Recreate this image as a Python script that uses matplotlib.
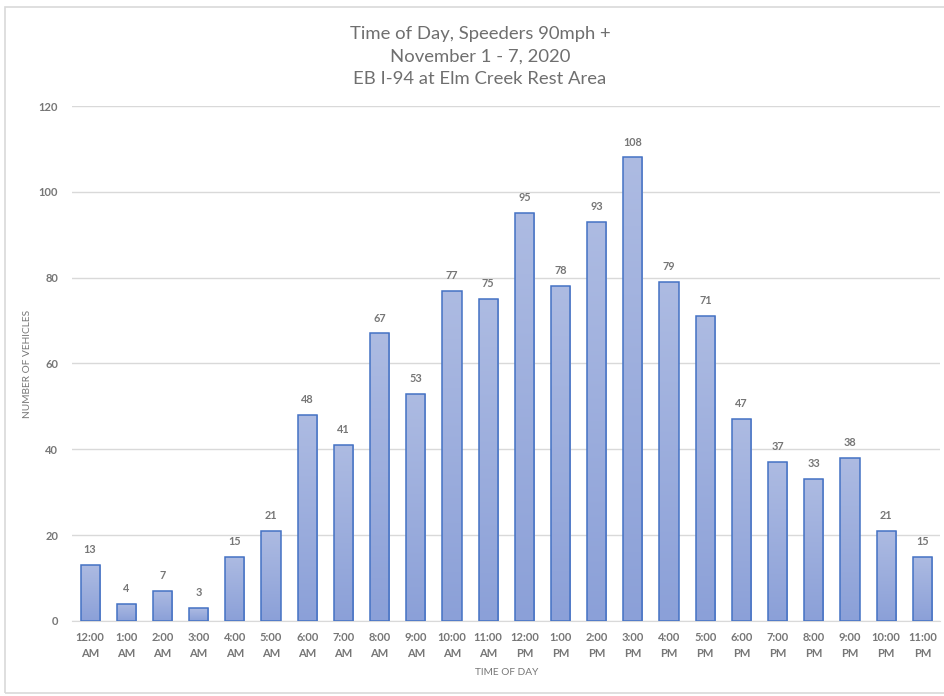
import numpy as np
import matplotlib.pyplot as plt
from matplotlib.patches import Rectangle
from matplotlib.colors import LinearSegmentedColormap

plt.rcParams['font.family'] = ['Lato', 'DejaVu Sans']

hours = ['12:00\nAM', '1:00\nAM', '2:00\nAM', '3:00\nAM', '4:00\nAM', '5:00\nAM',
         '6:00\nAM', '7:00\nAM', '8:00\nAM', '9:00\nAM', '10:00\nAM', '11:00\nAM',
         '12:00\nPM', '1:00\nPM', '2:00\nPM', '3:00\nPM', '4:00\nPM', '5:00\nPM',
         '6:00\nPM', '7:00\nPM', '8:00\nPM', '9:00\nPM', '10:00\nPM', '11:00\nPM']
vehicles = [13, 4, 7, 3, 15, 21, 48, 41, 67, 53, 77, 75,
            95, 78, 93, 108, 79, 71, 47, 37, 33, 38, 21, 15]

txt = '#767676'

fig = plt.figure(figsize=(9.45, 6.96), dpi=100)
ax = fig.add_axes([0.0762, 0.1078, 0.919, 0.7399])

x = np.arange(len(vehicles))
bars = ax.bar(x, vehicles, width=0.53, facecolor='none', edgecolor='#4472c4',
              linewidth=1.1, zorder=3)

# vertical gradient fill, lighter at the top of each bar
grad = np.linspace(0, 1, 256).reshape(-1, 1)
cmap = LinearSegmentedColormap.from_list('barfill', ['#8ba0d8', '#adbbe2'])
for b in bars:
    x0, w, h = b.get_x(), b.get_width(), b.get_height()
    im = ax.imshow(grad, cmap=cmap, origin='lower', aspect='auto',
                   extent=[x0, x0 + w, 0, h], zorder=2)
    im.set_clip_path(b)

for xi, v in zip(x, vehicles):
    ax.text(xi, v + 2.3, str(v), ha='center', va='bottom', fontsize=7.8,
            color=txt, fontweight='bold')

ax.set_xlim(-0.5, len(vehicles) - 0.5)
ax.set_ylim(0, 120)
ax.set_yticks(range(0, 121, 20))
ax.set_xticks(x)
ax.set_xticklabels(hours, fontsize=8, color=txt, fontweight='bold', linespacing=1.6)
ax.tick_params(axis='y', labelsize=8, labelcolor=txt, length=0, pad=10)
ax.tick_params(axis='x', length=0, pad=8)
for lbl in ax.get_yticklabels():
    lbl.set_fontweight('bold')

ax.grid(axis='y', color='#d9d9d9', linewidth=1)
ax.set_axisbelow(True)
for s in ['top', 'right', 'left']:
    ax.spines[s].set_visible(False)
ax.spines['bottom'].set_color('#d9d9d9')

ax.set_ylabel('NUMBER OF VEHICLES', fontsize=7.3, color=txt)
ax.yaxis.set_label_coords(-0.046, 0.5)
ax.set_xlabel('TIME OF DAY', fontsize=7.3, color=txt, labelpad=6)

fig.text(0.508, 0.962, 'Time of Day, Speeders 90mph +\nNovember 1 - 7, 2020\nEB I-94 at Elm Creek Rest Area',
         ha='center', va='top', fontsize=13.3, color='#6f6f6f', linespacing=1.5)

# light frame around the chart area
fig.add_artist(Rectangle((5 / 945, 3 / 696), 945, 686 / 696, transform=fig.transFigure,
                         fill=False, edgecolor='#d9d9d9', linewidth=1.2))

fig.savefig('out.png', dpi=100)
